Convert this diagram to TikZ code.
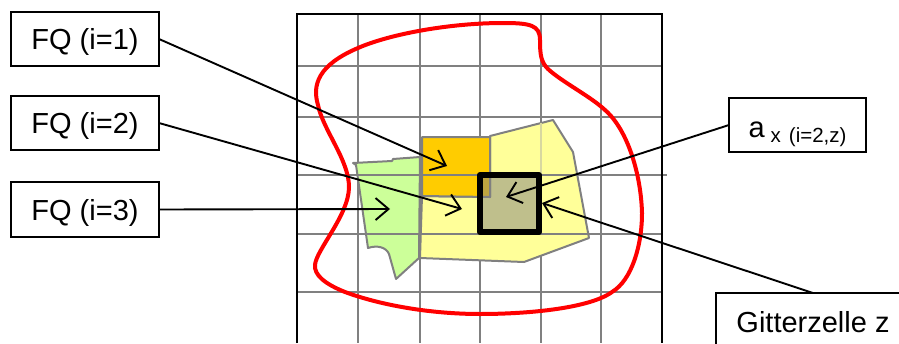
\documentclass[tikz,border=0pt]{standalone}
\usepackage{fontspec}
\setmainfont{Liberation Sans}
\usetikzlibrary{arrows.meta}
\definecolor{gridgrey}{HTML}{808080}
\definecolor{fqyellow}{HTML}{FFFF99}
\definecolor{fqorange}{HTML}{FFCC00}
\definecolor{fqgreen}{HTML}{CCFF99}
\definecolor{fadeline}{HTML}{D8D8A0}
\tikzset{
  x=1pt,y=-1pt,
  gridline/.style={draw=gridgrey,line width=2.2pt},
  frameline/.style={draw=black,line width=2.2pt},
  area/.style={draw=gridgrey,line width=2pt,line join=round},
  labelbox/.style={draw=black,line width=2pt,fill=white,inner sep=0pt,outer sep=0pt,
    font=\fontsize{29}{29}\selectfont,text height=21pt,text depth=0pt,align=center},
  pointer/.style={draw=black,line width=1.9pt,-{Straight Barb[length=13pt,width=22pt,line width=1.9pt]}},
  redline/.style={draw=red,line width=4pt},
}
\begin{document}
\begin{tikzpicture}
\useasboundingbox (0,0) rectangle (899,343);
\clip (0,0) rectangle (899,343);
% vertical grid lines
\foreach \xv in {358,420,480,541,601}
  \draw[gridline] (\xv,14) -- (\xv,343);
% areas
\draw[area,fill=fqyellow] (490,136) -- (553,120) -- (573,152) -- (589,238) -- (524,262) -- (420,258)
  -- (422,196) -- (490,197) -- cycle;
\draw[area,fill=fqorange] (422,137) -- (490,137) -- (490,197) -- (422,196) -- cycle;
\draw[area,fill=fqgreen] (353,163) -- (392,161) -- (393,159) -- (420,157) -- (419,258) -- (396,279)
  -- (389,254) .. controls (386,247) and (377,245) .. (368,248) -- (356,165) -- cycle;
% grid lines over the areas
\foreach \yv in {66,117,234,292}
  \draw[gridline] (297,\yv) -- (662,\yv);
\draw[gridline] (297,175) -- (667,175);
\draw[draw=fadeline,line width=1.4pt] (541,123) -- (541,174);
% frame
\draw[frameline] (297,343) -- (297,14) -- (662,14) -- (662,343);
% grid cell
\fill[gray,fill opacity=0.5] (480,175) rectangle (539,232);
\draw[draw=black,line width=6pt,line join=round] (480,175) rectangle (539,232);
% red outline
\draw[redline] (540,40)
  .. controls (540,55) and (541,62) .. (548,69)
  .. controls (562,82) and (590,96) .. (605,110)
  .. controls (628,130) and (641,175) .. (642,213)
  .. controls (642,245) and (632,280) .. (612,292)
  .. controls (590,308) and (530,314) .. (480,314)
  .. controls (430,314) and (380,305) .. (345,292)
  .. controls (325,284) and (314,275) .. (315,265)
  .. controls (316,250) and (349,215) .. (349,187)
  .. controls (349,160) and (323,130) .. (318,105)
  .. controls (312,85) and (318,65) .. (358,48)
  .. controls (390,34) and (450,23) .. (503,23)
  .. controls (530,23) and (540,25) .. cycle;
% labels
\node[labelbox,minimum width=148pt,minimum height=54pt] (fq1) at (85,39) {FQ (i=1)};
\node[labelbox,minimum width=148pt,minimum height=54pt] (fq2) at (85,123) {FQ (i=2)};
\node[labelbox,minimum width=148pt,minimum height=55pt] (fq3) at (85,209.5) {FQ (i=3)};
\node[labelbox,minimum width=137pt,minimum height=54pt,text height=24pt] (ax) at (797.5,125)
  {a\hspace{6pt}\raisebox{-5pt}{\fontsize{20.5}{20.5}\selectfont x\hspace{8pt}(i=2,z)}};
\node[labelbox,minimum width=194pt,minimum height=58pt,anchor=north] (gz) at (813,293) {Gitterzelle z};
% pointers
\coordinate (t1) at (447,166);
\coordinate (t2) at (462,209);
\coordinate (t3) at (390,209);
\coordinate (t4) at (506,197);
\coordinate (t5) at (542,203);
\draw[pointer] (fq1.east) -- (t1);
\draw[pointer] (fq2.east) -- (t2);
\draw[pointer] (fq3.east) -- (t3);
\draw[pointer] (ax.west) -- (t4);
\draw[pointer] (gz.north) -- (t5);
\end{tikzpicture}
\end{document}
